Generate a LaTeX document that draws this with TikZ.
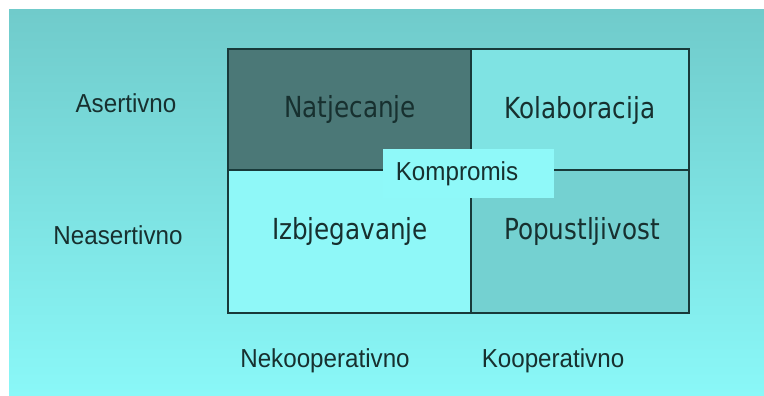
\documentclass[tikz,border=0pt]{standalone}
\usepackage{fontspec}
\setmainfont{Liberation Sans}
\newfontfamily\cellfont{DejaVu Sans}
\usepackage{graphicx}
\definecolor{bgtop}{HTML}{70CBCB}
\definecolor{bgbot}{HTML}{8AF8F8}
\definecolor{cnat}{HTML}{4B7877}
\definecolor{ckol}{HTML}{7FE3E3}
\definecolor{cizb}{HTML}{8FF8F8}
\definecolor{cpop}{HTML}{74D1D1}
\definecolor{ckom}{HTML}{8FF9F9}
\definecolor{lin}{HTML}{183A3A}
\definecolor{txt}{HTML}{17302F}
\newcommand{\axtext}[1]{\scalebox{0.93}[1]{\fontsize{26}{28}\selectfont #1}}
\newcommand{\celltext}[1]{\scalebox{0.85}[1]{\cellfont\fontsize{29}{31}\selectfont #1}}
\tikzset{
  axlabel/.style={inner sep=0pt, text=txt},
  celllabel/.style={inner sep=0pt, text=txt},
  gridline/.style={draw=lin, line width=2pt},
}
\begin{document}
\begin{tikzpicture}[x=1pt,y=-1pt]
\useasboundingbox (0,0) rectangle (764,396);
\fill[white] (0,0) rectangle (764,396);
\fill[top color=bgtop, bottom color=bgbot] (9,10) rectangle (764,396);
% cells
\fill[cnat] (228,49) rectangle (471,170);
\fill[ckol] (471,49) rectangle (689,170);
\fill[cizb] (228,170) rectangle (471,313);
\fill[cpop] (471,170) rectangle (689,313);
% grid lines
\draw[gridline] (228,49) rectangle (689,313);
\draw[gridline] (471,49) -- (471,313);
\draw[gridline] (228,170) -- (689,170);
% kompromis box
\node[fill=ckom, minimum width=171pt, minimum height=49pt, inner sep=0pt] (kbox) at (468.5,173.5) {};
\node[axlabel] (kom) at (457,174) {\axtext{Kompromis}};
% cell texts
\node[celllabel] (nat) at (350,109) {\celltext{Natjecanje}};
\node[celllabel] (kol) at (580,110) {\celltext{Kolaboracija}};
\node[celllabel] (izb) at (350,231) {\celltext{Izbjegavanje}};
\node[celllabel] (pop) at (582,231) {\celltext{Popustljivost}};
% axis labels
\node[axlabel] (as) at (126,103) {\axtext{Asertivno}};
\node[axlabel] (neas) at (118,235) {\axtext{Neasertivno}};
\node[axlabel] (nek) at (325,361) {\axtext{Nekooperativno}};
\node[axlabel] (koo) at (553,361) {\axtext{Kooperativno}};
\end{tikzpicture}
\end{document}
